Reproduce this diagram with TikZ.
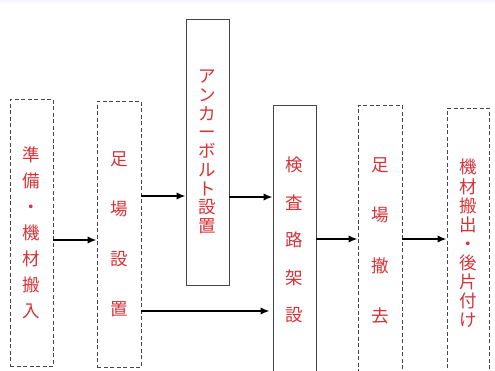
\documentclass[tikz,border=0pt]{standalone}
\usepackage{fontspec}
\newfontfamily\cjk{Noto Sans CJK JP}
\usetikzlibrary{arrows.meta}
\definecolor{txtred}{RGB}{215,50,55}
\definecolor{boxgray}{RGB}{70,70,70}
\tikzset{
  stepbox/.style={draw=boxgray, line width=0.9pt, inner sep=0pt, align=center, text=txtred},
  dbox/.style={stepbox, dash pattern=on 4pt off 2.5pt},
  sbox/.style={stepbox},
  arr/.style={line width=2pt, -{Latex[length=9pt,width=7.5pt]}},
}
\newcommand{\vfs}[1]{\cjk\fontsize{17.5}{#1}\selectfont}
\begin{document}
\begin{tikzpicture}[x=1pt,y=-1pt]
\useasboundingbox[fill=white] (0,0) rectangle (495,370);
\fill[blue!4] (0,0) rectangle (495,1.5);
\node[dbox, minimum width=43pt, minimum height=267pt, font=\vfs{26}] (b1) at (31.5,232.5) {準\\備\\・\\機\\材\\搬\\入};
\node[dbox, minimum width=44pt, minimum height=266pt, font=\vfs{50}] (b2) at (119,234) {足\\場\\設\\置};
\node[sbox, minimum width=43pt, minimum height=266pt, font=\vfs{18.7}] (b3) at (207.5,152) {ア\\ン\\カ\\ー\\ボ\\ル\\ト\\設\\置};
\node[sbox, minimum width=43pt, minimum height=270pt, font=\vfs{37.5}] (b4) at (294.5,240) {検\\査\\路\\架\\設};
\node[dbox, minimum width=44pt, minimum height=272pt, font=\vfs{50.5}] (b5) at (380,241) {足\\場\\撤\\去};
\node[dbox, minimum width=42pt, minimum height=271pt, font=\vfs{19.1}] (b6) at (468,243.5) {機\\材\\搬\\出\\・\\後\\片\\付\\け};
\draw[arr] ([yshift=-7.5pt]b1.east) -- ([yshift=-6pt]b2.west);
\draw[arr] ([yshift=38pt]b2.east) -- ([yshift=-44pt]b3.west);
\draw[arr] ([yshift=-45pt]b3.east) -- ([yshift=43pt]b4.west);
\draw[arr, shorten >=3pt] ([yshift=-77pt]b2.east) -- ([yshift=-71pt]b4.west);
\draw[arr] ([yshift=1pt]b4.east) -- ([yshift=2pt]b5.west);
\draw[arr] ([yshift=2pt]b5.east) -- ([yshift=4.5pt]b6.west);
\end{tikzpicture}
\end{document}
